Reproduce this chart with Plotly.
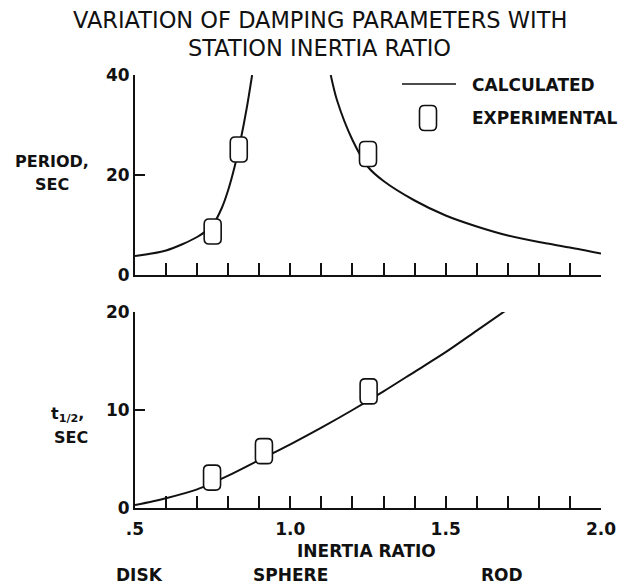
import plotly.graph_objects as go

# ---- data ----
period_left_x = [0.5, 0.6, 0.7, 0.75, 0.78, 0.8, 0.82, 0.84, 0.86, 0.877]
period_left_y = [3.8, 4.9, 7.6, 10.0, 13.5, 17.0, 21.5, 27.0, 33.5, 40.0]
period_right_x = [1.13, 1.15, 1.2, 1.25, 1.3, 1.4, 1.5, 1.6, 1.7, 1.8, 1.9, 2.0]
period_right_y = [40.0, 35.0, 27.0, 21.6, 18.8, 14.9, 11.9, 9.7, 7.9, 6.6, 5.5, 4.3]
period_exp_x = [0.75, 0.834, 1.25]
period_exp_y = [8.7, 25.1, 24.2]

thalf_x = [0.5, 0.6, 0.7, 0.8, 0.9, 1.0, 1.1, 1.2, 1.3, 1.4, 1.5, 1.6, 1.7]
thalf_y = [0.3, 1.0, 1.9, 3.3, 4.9, 6.5, 8.2, 10.0, 11.9, 13.9, 15.9, 18.1, 20.3]
thalf_exp_x = [0.748, 0.915, 1.252]
thalf_exp_y = [3.1, 5.8, 11.9]

x_major_ticks = [0.5, 1.0, 1.5, 2.0]
x_tick_labels = [".5", "1.0", "1.5", "2.0"]
x_minor_step = 0.1
period_ticks = [0, 20, 40]
thalf_ticks = [0, 10, 20]

W, H = 623, 588
FONT = "DejaVu Sans"
BLACK = "#111111"

def px(x):
    return x / W

def py(y):
    return 1 - y / H

fig = go.Figure()
line_style = dict(color=BLACK, width=2, shape="spline", smoothing=0.8)
fig.add_trace(go.Scatter(x=period_left_x, y=period_left_y, mode="lines", line=line_style,
                         xaxis="x", yaxis="y", showlegend=False, hoverinfo="skip"))
fig.add_trace(go.Scatter(x=period_right_x, y=period_right_y, mode="lines", line=line_style,
                         xaxis="x", yaxis="y", showlegend=False, hoverinfo="skip"))
fig.add_trace(go.Scatter(x=thalf_x, y=thalf_y, mode="lines", line=line_style,
                         xaxis="x2", yaxis="y2", showlegend=False, hoverinfo="skip"))

# rounded-rectangle experimental markers (pixel sized, anchored at data points)
hw, hh, r = 8.5, 12.5, 5
marker_path = (f"M {-hw},{-hh + r} L {-hw},{hh - r} Q {-hw},{hh} {-hw + r},{hh} "
               f"L {hw - r},{hh} Q {hw},{hh} {hw},{hh - r} L {hw},{-hh + r} "
               f"Q {hw},{-hh} {hw - r},{-hh} L {-hw + r},{-hh} Q {-hw},{-hh} {-hw},{-hh + r} Z")

shapes = []
def add_marker(xv, yv, xref, yref):
    shapes.append(dict(type="path", path=marker_path, xref=xref, yref=yref,
                       xsizemode="pixel", ysizemode="pixel", xanchor=xv, yanchor=yv,
                       line=dict(color=BLACK, width=1.6), fillcolor="white", layer="above"))

for xv, yv in zip(period_exp_x, period_exp_y):
    add_marker(xv, yv, "x", "y")
for xv, yv in zip(thalf_exp_x, thalf_exp_y):
    add_marker(xv, yv, "x2", "y2")

# legend (drawn manually)
shapes.append(dict(type="line", xref="paper", yref="paper", x0=px(402), x1=px(456),
                   y0=py(84), y1=py(84), line=dict(color=BLACK, width=1.6)))
add_marker(px(428), py(118), "paper", "paper")

xdom = [px(135), px(601)]
axis_common = dict(showline=True, linecolor=BLACK, linewidth=2, showgrid=False,
                   zeroline=False, ticks="inside", tickcolor=BLACK, tickwidth=2,
                   automargin=False,
                   tickfont=dict(family=FONT, size=17, color=BLACK, weight="bold"))
x_minor = dict(dtick=x_minor_step, tick0=0.5, ticks="inside", ticklen=12,
               tickwidth=2, tickcolor=BLACK, showgrid=False)

annotations = []
def text(s, x, y, size=17, xanchor="center", weight="bold"):
    annotations.append(dict(text=s, x=px(x), y=py(y), xref="paper", yref="paper",
                            showarrow=False, xanchor=xanchor, yanchor="middle",
                            font=dict(family=FONT, size=size, color=BLACK, weight=weight)))

text("VARIATION OF DAMPING PARAMETERS WITH", 320, 20, size=22.5, weight="normal")
text("STATION INERTIA RATIO", 320, 48, size=22.5, weight="normal")
text("PERIOD,", 52, 162, size=16)
text("SEC", 52, 185, size=16)
text("t<sub>1/2</sub>,", 49, 414, size=16, xanchor="left")
text("SEC", 71, 437, size=16)
text("INERTIA RATIO", 366, 551)
text("DISK", 139, 575)
text("SPHERE", 290, 575)
text("ROD", 502, 575)
text("CALCULATED", 470, 85, xanchor="left")
text("EXPERIMENTAL", 470, 118, xanchor="left")

fig.update_layout(
    template="none",
    width=W, height=H, margin=dict(l=0, r=0, t=0, b=0, pad=0),
    paper_bgcolor="white", plot_bgcolor="white",
    xaxis=dict(domain=xdom, range=[0.5, 2.0], anchor="y", tickvals=x_major_ticks,
               showticklabels=False, ticklen=12, minor=x_minor, **axis_common),
    yaxis=dict(domain=[py(275), py(75)], range=[0, 40], anchor="x", tickvals=period_ticks,
               ticklen=10, **axis_common),
    xaxis2=dict(domain=xdom, range=[0.5, 2.0], anchor="y2", tickvals=x_major_ticks,
                ticktext=x_tick_labels, ticklen=12, minor=x_minor, ticklabelstandoff=5,
                **axis_common),
    yaxis2=dict(domain=[py(508), py(312)], range=[0, 20], anchor="x2", tickvals=thalf_ticks,
                ticklen=10, **axis_common),
    shapes=shapes, annotations=annotations, showlegend=False,
)

fig.write_html("out.html", config={"displayModeBar": False},
               post_script="document.body.style.margin='0';document.body.style.overflow='hidden';")
